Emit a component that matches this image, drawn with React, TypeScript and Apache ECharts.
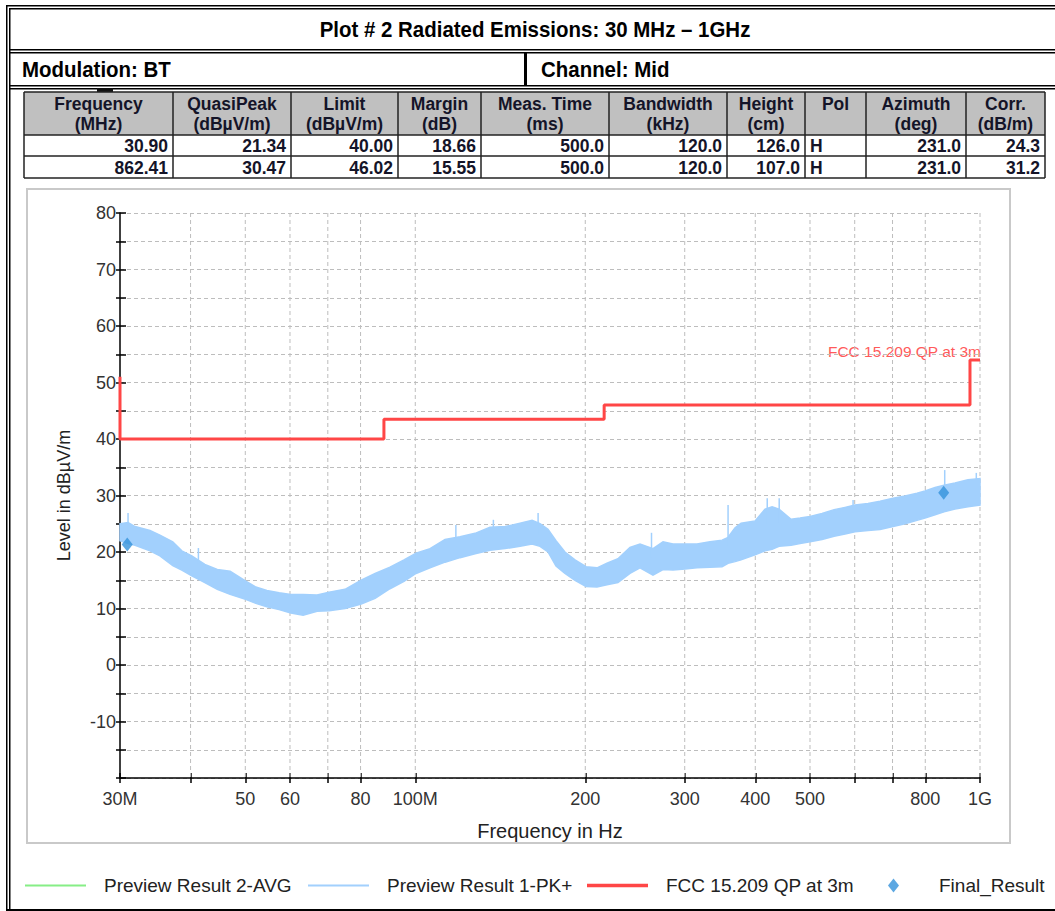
import React, { useEffect, useRef } from "react";
import * as echarts from "echarts";

const titleText = "Plot # 2 Radiated Emissions: 30 MHz – 1GHz";
const modulationText = "Modulation: BT";
const channelText = "Channel: Mid";

const tableHeaders = [
  "Frequency\n(MHz)",
  "QuasiPeak\n(dBµV/m)",
  "Limit\n(dBµV/m)",
  "Margin\n(dB)",
  "Meas. Time\n(ms)",
  "Bandwidth\n(kHz)",
  "Height\n(cm)",
  "Pol",
  "Azimuth\n(deg)",
  "Corr.\n(dB/m)",
];
const tableRow1 = ["30.90", "21.34", "40.00", "18.66", "500.0", "120.0", "126.0", "H", "231.0", "24.3"];
const tableRow2 = ["862.41", "30.47", "46.02", "15.55", "500.0", "120.0", "107.0", "H", "231.0", "31.2"];

// Final results (MHz, dBµV/m)
const finalFreq = [30.9, 862.41];
const finalLevel = [21.34, 30.47];

// Limit line FCC 15.209 QP at 3m
const limitFreq = [30, 30, 88, 88, 216, 216, 960, 960, 1000];
const limitLevel = [51, 40, 40, 43.5, 43.5, 46, 46, 54, 54];

// Preview Result 1-PK+ envelope
const bandFreq = [30.0, 31.0, 31.9, 33.9, 35.3, 37.2, 38.6, 40.2, 42.4, 44.6, 47.0, 50.2, 52.2, 54.6, 57.4, 60.2, 63.3, 67.0, 70.4, 75.1, 80.2, 84.9, 90.2, 95.5, 100.3, 106.2, 112.9, 120.0, 127.6, 135.6, 144.2, 153.3, 161.0, 166.3, 171.8, 177.5, 184.1, 191.8, 200.6, 209.8, 218.5, 228.5, 240.0, 250.0, 263.6, 274.6, 286.0, 300.4, 315.4, 332.6, 349.3, 358.0, 368.4, 377.5, 399.7, 416.3, 428.4, 440.7, 462.9, 480.2, 500.1, 525.2, 551.6, 576.8, 600.8, 633.5, 665.3, 701.5, 736.6, 773.6, 799.1, 832.6, 863.6, 903.1, 952.3, 1000];
const bandHigh = [25.0, 25.2, 24.5, 23.8, 23.0, 21.8, 20.2, 19.3, 17.8, 16.9, 16.6, 14.8, 13.8, 13.2, 12.8, 12.5, 12.5, 12.4, 12.9, 13.4, 15.0, 16.2, 17.3, 18.6, 19.8, 20.6, 22.2, 22.7, 23.3, 24.4, 24.5, 25.1, 25.6, 25.0, 24.0, 22.0, 20.0, 18.6, 17.4, 17.2, 18.0, 18.8, 20.8, 21.4, 20.6, 21.8, 21.4, 21.4, 21.4, 21.8, 22.1, 22.6, 24.3, 25.1, 25.5, 27.6, 28.0, 27.6, 25.8, 26.0, 26.3, 26.8, 27.5, 27.9, 28.3, 28.6, 29.0, 29.5, 29.9, 30.4, 30.8, 31.4, 31.8, 32.2, 32.8, 33.0];
const bandLow = [22.0, 21.5, 21.2, 20.2, 19.3, 17.6, 16.8, 15.8, 14.6, 13.4, 12.5, 11.6, 10.9, 10.3, 9.8, 9.2, 8.8, 9.5, 9.6, 10.0, 10.8, 11.8, 13.5, 14.8, 16.2, 17.2, 18.2, 19.0, 19.7, 20.3, 20.6, 21.0, 21.4, 21.0, 20.0, 17.5, 16.2, 15.0, 13.9, 13.8, 14.2, 14.6, 16.2, 17.2, 15.9, 16.9, 16.8, 17.0, 17.2, 17.3, 17.4, 18.0, 18.3, 18.6, 19.5, 20.2, 20.5, 21.0, 21.2, 21.5, 21.8, 22.2, 22.8, 23.2, 23.6, 23.8, 24.0, 24.5, 25.0, 25.6, 26.0, 26.6, 27.1, 27.6, 28.0, 28.3];

// narrow spikes above the band
const spikeFreq = [31.0, 41.3, 118, 137.5, 165, 262, 358, 420, 441, 596, 866, 985];
const spikeTop = [26.9, 20.7, 24.8, 25.7, 26.9, 23.4, 28.3, 29.5, 29.5, 29.2, 34.5, 34.0];
const spikeBase = [23, 18, 21, 22, 23, 19, 21, 25, 25, 25, 29, 30];

// axis ticks
const xTickFreqs = [30, 40, 50, 60, 70, 80, 100, 200, 300, 400, 500, 600, 700, 800, 1000];
const xLabelFreqs = [30, 50, 60, 80, 100, 200, 300, 400, 500, 800, 1000];
const xLabelTexts = ["30M", "50", "60", "80", "100M", "200", "300", "400", "500", "800", "1G"];
const yMin = -20;
const yMax = 80;
const yStep = 5;

const legendNames = ["Preview Result 2-AVG", "Preview Result 1-PK+", "FCC 15.209 QP at 3m", "Final_Result"];

const FONT = '"Liberation Sans", Arial, Helvetica, sans-serif';

const lg = (f: number) => Math.log10(f);

const BAND_COLOR = "#a2d0fd";
const RED = "#ff4646";
const GREEN = "#86ee86";
const DIAMOND = "#3592db";
const GRID = "#bdbdbd";

function buildGraphics() {
  const els: any[] = [];
  const bar = (x: number, y: number, w: number, h: number, fill = "#000") =>
    els.push({ type: "rect", shape: { x, y, width: w, height: h }, style: { fill }, silent: true });
  // outer frame (double lines)
  bar(6, 5, 1049, 1.5);
  bar(9, 8, 1046, 1.5);
  bar(6, 5, 1.5, 906);
  bar(9, 8, 1.5, 903);
  bar(9, 49, 1046, 1.5);
  bar(9, 52, 1046, 1.5);
  bar(9, 85, 1046, 1.5);
  bar(9, 88, 1046, 1.5);
  bar(524, 53, 3, 32);
  bar(6, 909, 1049, 2);
  bar(97, 88, 16, 4, "#111");

  const head = (text: string, x: number, y: number, align: string) =>
    els.push({
      type: "text",
      x,
      y,
      scaleX: 0.93,
      style: { text, x: 0, y: 0, align, verticalAlign: "middle", fill: "#000", fontSize: 22, fontWeight: "bold", fontFamily: FONT },
    });
  head(titleText, 535, 30, "center");
  head(modulationText, 22, 70, "left");
  head(channelText, 541, 70, "left");

  // results table
  const cols = [24, 173, 291, 398, 481, 609, 727, 805, 866, 966, 1045];
  const rows = [92, 135, 156, 178];
  els.push({ type: "rect", shape: { x: cols[0], y: rows[0], width: cols[10] - cols[0], height: rows[1] - rows[0] }, style: { fill: "#c0c0c0" }, silent: true });
  rows.forEach((y) =>
    els.push({ type: "line", shape: { x1: cols[0], y1: y, x2: cols[10], y2: y }, style: { stroke: "#222", lineWidth: 1.5 }, silent: true })
  );
  cols.forEach((x) =>
    els.push({ type: "line", shape: { x1: x, y1: rows[0], x2: x, y2: rows[3] }, style: { stroke: "#222", lineWidth: 1.5 }, silent: true })
  );
  const tfont = { fontSize: 17.5, fontWeight: "bold", fontFamily: FONT, fill: "#141428" };
  tableHeaders.forEach((h, i) => {
    const cx = (cols[i] + cols[i + 1]) / 2;
    h.split("\n").forEach((line, j) => {
      els.push({ type: "text", style: { ...tfont, text: line, x: cx, y: 104 + j * 20, align: "center", verticalAlign: "middle" } });
    });
  });
  [tableRow1, tableRow2].forEach((row, r) => {
    const cy = (rows[r + 1] + rows[r + 2]) / 2 + 0.5;
    row.forEach((v, i) => {
      const left = i === 7;
      els.push({
        type: "text",
        style: { ...tfont, text: v, x: left ? cols[i] + 5 : cols[i + 1] - 5, y: cy, align: left ? "left" : "right", verticalAlign: "middle" },
      });
    });
  });

  // chart panel
  els.push({ type: "rect", shape: { x: 27, y: 189, width: 983, height: 654 }, style: { fill: "none", stroke: "#c9c9c9", lineWidth: 2 }, silent: true, z: -1 });

  // limit line label
  els.push({
    type: "text",
    style: { text: legendNames[2], x: 981, y: 351, align: "right", verticalAlign: "middle", fill: "#ff5a5a", fontSize: 15.5, fontFamily: FONT },
  });
  return els;
}

function xLabel(v: number) {
  for (let i = 0; i < xLabelFreqs.length; i++) {
    if (Math.abs(lg(xLabelFreqs[i]) - v) < 1e-6) return xLabelTexts[i];
  }
  return "";
}

export default function App() {
  const ref = useRef<HTMLDivElement>(null);
  useEffect(() => {
    document.body.style.margin = "0";
    const chart = echarts.init(ref.current!, null, { renderer: "svg" });
    const xMin = lg(30);
    const xMax = lg(1000);
    const tickColor = { color: "#000", width: 1.5 };
    const legendCommon = {
      top: 876,
      padding: 0,
      itemWidth: 61,
      itemHeight: 2,
      selectedMode: false,
      textStyle: { fontSize: 19, color: "#222", fontFamily: FONT, padding: [0, 0, 0, 13] },
    };
    const option: any = {
      animation: false,
      backgroundColor: "#fff",
      textStyle: { fontFamily: FONT },
      graphic: buildGraphics(),
      grid: { left: 120, top: 213, width: 860, height: 565 },
      legend: [
        { ...legendCommon, left: 25, data: [{ name: legendNames[0], icon: "rect" }] },
        { ...legendCommon, left: 308, data: [{ name: legendNames[1], icon: "rect" }] },
        { ...legendCommon, left: 587, itemHeight: 3.5, data: [{ name: legendNames[2], icon: "rect" }] },
        {
          ...legendCommon,
          left: 888,
          itemWidth: 11,
          itemHeight: 14,
          data: [legendNames[3]],
          textStyle: { ...legendCommon.textStyle, padding: [0, 0, 0, 35] },
        },
      ],
      xAxis: [
        {
          type: "value",
          min: xMin,
          max: xMax,
          position: "bottom",
          axisLine: { show: true, onZero: false, lineStyle: tickColor },
          axisTick: { show: true, length: 5, customValues: xTickFreqs.map(lg), lineStyle: tickColor },
          axisLabel: { customValues: xLabelFreqs.map(lg), formatter: (v: number) => xLabel(v), fontSize: 18, color: "#333", margin: 12 },
          splitLine: { show: false },
          name: "Frequency in Hz",
          nameLocation: "middle",
          nameGap: 43,
          nameTextStyle: { fontSize: 20, color: "#222" },
        },
        {
          type: "value",
          min: xMin,
          max: xMax,
          position: "bottom",
          axisLine: { show: false, onZero: false },
          axisTick: { show: true, inside: true, length: 5, customValues: xTickFreqs.map(lg), lineStyle: tickColor },
          axisLabel: { show: false },
          splitLine: { show: false },
        },
      ],
      yAxis: [
        {
          type: "value",
          min: yMin,
          max: yMax,
          interval: yStep,
          position: "left",
          axisLine: { show: true, onZero: false, lineStyle: tickColor },
          axisTick: { show: true, length: 4, lineStyle: tickColor },
          axisLabel: { formatter: (v: number) => (v % 10 === 0 && v > yMin ? String(v) : ""), fontSize: 18, color: "#333", margin: 4 },
          splitLine: { show: true, lineStyle: { color: GRID, type: [4, 3], width: 1 } },
          name: "Level in dBµV/m",
          nameLocation: "middle",
          nameGap: 47,
          nameTextStyle: { fontSize: 18, color: "#222" },
        },
        {
          type: "value",
          min: yMin,
          max: yMax,
          interval: yStep,
          position: "left",
          axisLine: { show: false, onZero: false },
          axisTick: { show: true, inside: true, length: 6, lineStyle: tickColor },
          axisLabel: { show: false },
          splitLine: { show: false },
        },
      ],
      series: [
        {
          // vertical dashed grid lines at the frequency ticks
          type: "custom",
          name: "xgrid",
          silent: true,
          z: 1,
          data: [[lg(100), 0]],
          renderItem: (params: any, api: any) => {
            const children: any[] = xTickFreqs.slice(1).map((f) => {
              const a = api.coord([lg(f), yMax]);
              const b = api.coord([lg(f), yMin]);
              return {
                type: "line",
                shape: { x1: a[0], y1: a[1], x2: b[0], y2: b[1] },
                style: { stroke: GRID, lineWidth: 1, lineDash: [4, 3] },
              };
            });
            return { type: "group", children };
          },
        },
        {
          type: "line",
          name: legendNames[0],
          data: [],
          symbol: "none",
          itemStyle: { color: GREEN },
          lineStyle: { color: GREEN, width: 1.5 },
        },
        {
          type: "custom",
          name: legendNames[1],
          itemStyle: { color: BAND_COLOR },
          data: [[lg(100), 20]],
          z: 2,
          renderItem: (params: any, api: any) => {
            const pts: number[][] = [];
            for (let i = 0; i < bandFreq.length; i++) pts.push(api.coord([lg(bandFreq[i]), bandHigh[i]]));
            for (let i = bandFreq.length - 1; i >= 0; i--) pts.push(api.coord([lg(bandFreq[i]), bandLow[i]]));
            const children: any[] = [
              { type: "polygon", shape: { points: pts }, style: { fill: BAND_COLOR, stroke: BAND_COLOR, lineWidth: 1.5 } },
            ];
            for (let i = 0; i < spikeFreq.length; i++) {
              const a = api.coord([lg(spikeFreq[i]), spikeTop[i]]);
              const b = api.coord([lg(spikeFreq[i]), spikeBase[i]]);
              children.push({ type: "line", shape: { x1: a[0], y1: a[1], x2: b[0], y2: b[1] }, style: { stroke: BAND_COLOR, lineWidth: 1.5 } });
            }
            return { type: "group", children };
          },
        },
        {
          type: "line",
          name: legendNames[2],
          data: limitFreq.map((f, i) => [lg(f), limitLevel[i]]),
          symbol: "none",
          z: 3,
          itemStyle: { color: RED },
          lineStyle: { color: RED, width: 3 },
        },
        {
          type: "scatter",
          name: legendNames[3],
          symbol: "diamond",
          symbolSize: [11, 14],
          z: 4,
          itemStyle: { color: DIAMOND },
          data: finalFreq.map((f, i) => [lg(f), finalLevel[i]]),
        },
      ],
    };
    chart.setOption(option);
    return () => chart.dispose();
  }, []);
  return <div ref={ref} style={{ width: 1055, height: 911 }} />;
}
